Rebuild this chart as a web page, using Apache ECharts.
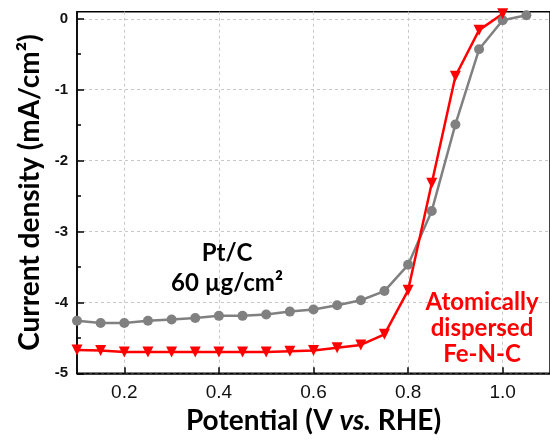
<!DOCTYPE html>
<html>
<head>
<meta charset="utf-8">
<script src="https://cdn.jsdelivr.net/npm/echarts@6/dist/echarts.min.js"></script>
<style>
  html, body { margin: 0; padding: 0; background: #fff; }
  #chart { width: 550px; height: 443px; }
</style>
</head>
<body>
<div id="chart"></div>
<script>
// potential (V vs. RHE)
const ptcPotential = [0.1, 0.15, 0.2, 0.25, 0.3, 0.35, 0.4, 0.45, 0.5, 0.55, 0.6, 0.65, 0.7, 0.75, 0.8, 0.85, 0.9, 0.95, 1.0, 1.05];
const ptcCurrent = [-4.26, -4.29, -4.29, -4.26, -4.24, -4.22, -4.19, -4.19, -4.17, -4.13, -4.10, -4.04, -3.97, -3.84, -3.47, -2.71, -1.49, -0.43, -0.02, 0.05];

const fencPotential = [0.1, 0.15, 0.2, 0.25, 0.3, 0.35, 0.4, 0.45, 0.5, 0.55, 0.6, 0.65, 0.7, 0.75, 0.8, 0.85, 0.9, 0.95, 1.0];
const fencCurrent = [-4.67, -4.68, -4.70, -4.70, -4.70, -4.70, -4.70, -4.70, -4.70, -4.69, -4.68, -4.64, -4.60, -4.45, -3.83, -2.32, -0.81, -0.16, 0.07];

const xTicks = [0.2, 0.4, 0.6, 0.8, 1.0];
const yTicks = [-5, -4, -3, -2, -1, 0];

const titleFont = 'Lato, "Open Sans", sans-serif';

const chart = echarts.init(document.getElementById('chart'));

const zip = (xs, ys) => xs.map((x, i) => [x, ys[i]]);

const gridLine = { show: true, lineStyle: { color: '#c8c8c8', type: [3, 3], width: 1 } };

chart.setOption({
  animation: false,
  grid: {
    left: 77, right: -6, top: 11.7, bottom: 69.7,
    show: true, borderColor: '#000', borderWidth: 1.5
  },
  xAxis: {
    type: 'value',
    min: 0.1,
    max: 1.1,
    name: '{b|Potential (V }{i|vs.}{b| RHE)}',
    nameLocation: 'middle',
    nameGap: 32,
    nameTextStyle: {
      rich: {
        b: { fontFamily: titleFont, fontWeight: 'bold', fontSize: 28, color: '#000' },
        i: { fontFamily: titleFont, fontWeight: 'bold', fontStyle: 'italic', fontSize: 28, color: '#000' }
      }
    },
    axisLine: { show: true, onZero: false, lineStyle: { color: '#000', width: 1.5 } },
    axisTick: { show: true, inside: true, length: 6, customValues: xTicks, lineStyle: { color: '#000', width: 1.5 } },
    axisLabel: {
      customValues: xTicks,
      margin: 10,
      fontFamily: '"Liberation Sans", Arial, sans-serif',
      fontSize: 19,
      color: '#111',
      formatter: v => v.toFixed(1)
    },
    splitLine: gridLine
  },
  yAxis: {
    type: 'value',
    min: -5,
    max: 0.1,
    interval: 1,
    name: 'Current density (mA/cm²)',
    nameLocation: 'middle',
    nameGap: 31,
    nameTextStyle: { fontFamily: titleFont, fontWeight: 'bold', fontSize: 28, color: '#000' },
    axisLine: { show: true, onZero: false, lineStyle: { color: '#000', width: 1.5 } },
    axisTick: { show: true, inside: true, length: 7, customValues: yTicks, lineStyle: { color: '#000', width: 1.5 } },
    minorTick: { show: true, splitNumber: 2, length: 4, lineStyle: { color: '#000', width: 1.5 } },
    axisLabel: {
      customValues: yTicks,
      margin: 9,
      fontFamily: '"Liberation Sans", Arial, sans-serif',
      fontWeight: 'bold',
      fontSize: 15,
      color: '#111'
    },
    splitLine: gridLine
  },
  series: [
    {
      name: 'Pt/C',
      type: 'line',
      data: zip(ptcPotential, ptcCurrent),
      symbol: 'circle',
      symbolSize: 10,
      itemStyle: { color: '#808080' },
      lineStyle: { color: '#808080', width: 2.5 }
    },
    {
      name: 'Fe-N-C',
      type: 'line',
      data: zip(fencPotential, fencCurrent),
      symbol: 'triangle',
      symbolRotate: 180,
      symbolSize: 11,
      itemStyle: { color: '#ff0000' },
      lineStyle: { color: '#ff0000', width: 2.5 },
      z: 3
    }
  ],
  graphic: [
    {
      type: 'text',
      z: 100,
      style: {
        text: 'Pt/C\n60 µg/cm²', x: 227, y: 268, align: 'center', verticalAlign: 'middle',
        lineHeight: 30, fontFamily: titleFont, fontWeight: 'bold', fontSize: 24, fill: '#000'
      }
    },
    {
      type: 'text',
      z: 100,
      style: {
        text: 'Atomically\ndispersed\nFe-N-C', x: 482, y: 328, align: 'center', verticalAlign: 'middle',
        lineHeight: 26, fontFamily: titleFont, fontWeight: 'bold', fontSize: 24, fill: '#ff0000',
        backgroundColor: 'transparent'
      }
    }
  ]
});
</script>
</body>
</html>
